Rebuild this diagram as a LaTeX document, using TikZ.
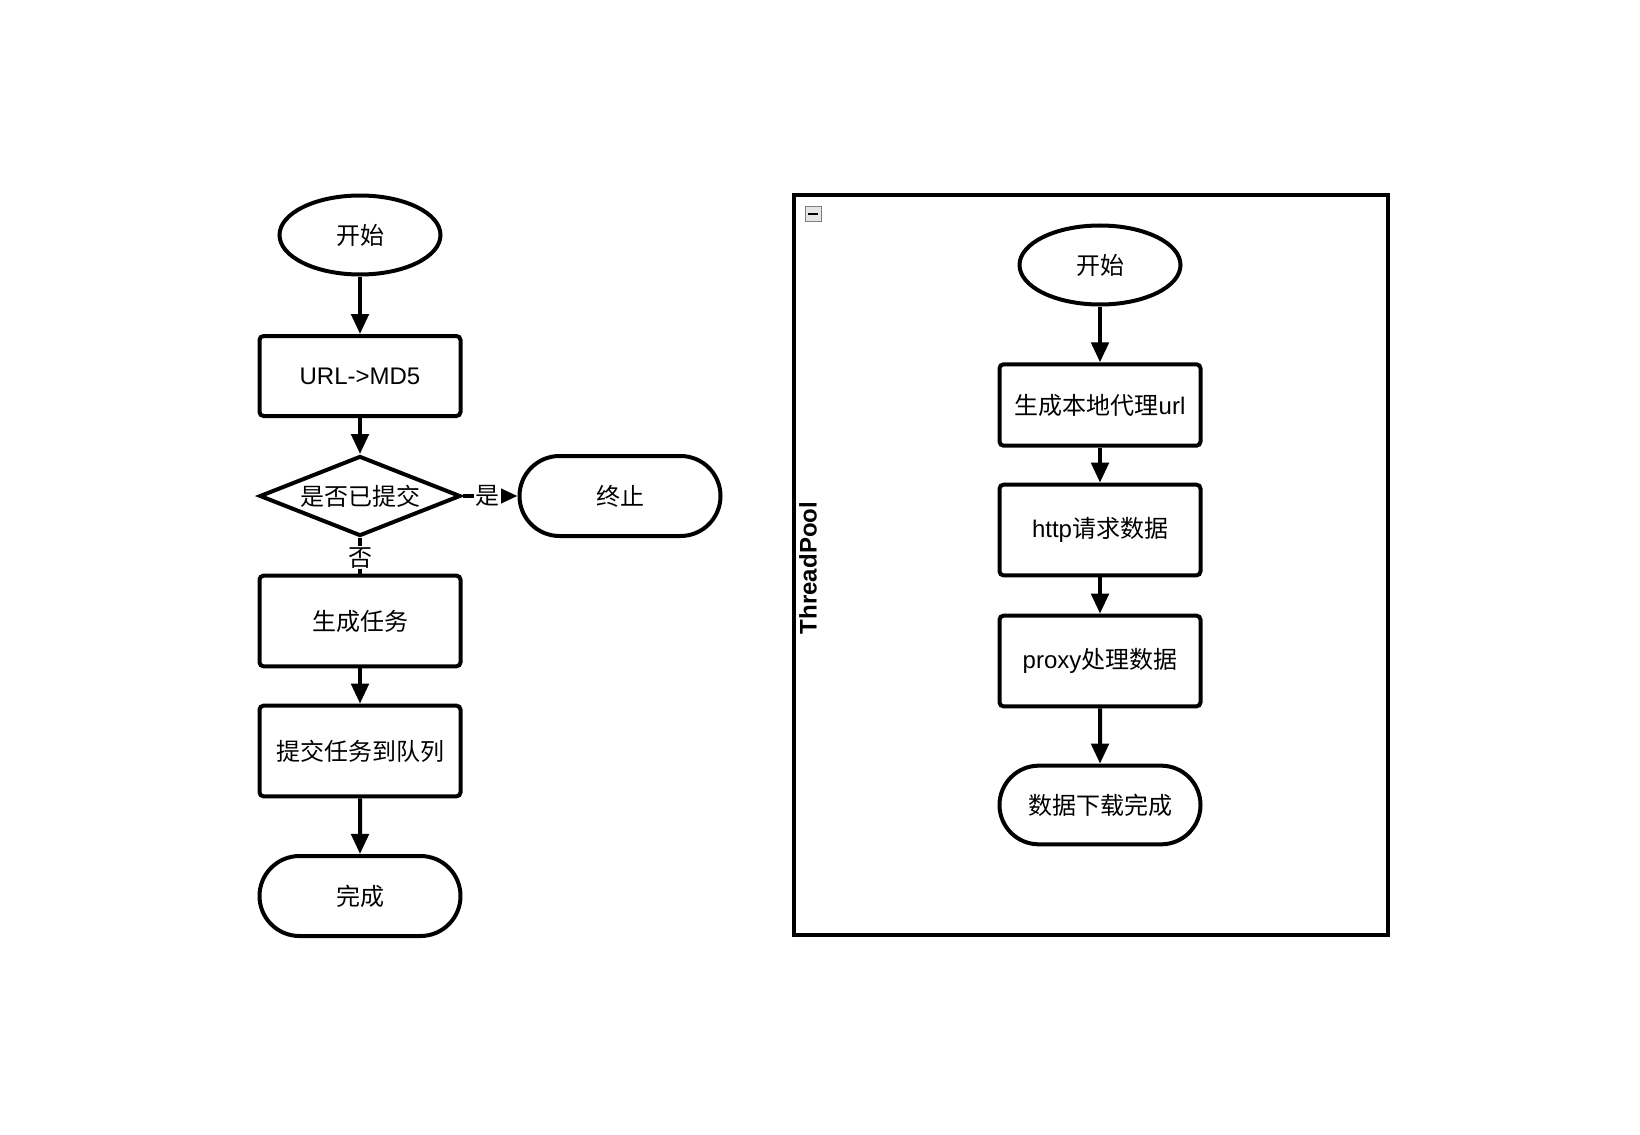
\documentclass[tikz,border=0pt]{standalone}
\usepackage{fontspec}
\setmainfont{Liberation Sans}
\newfontfamily\cjk{Noto Sans CJK SC}
\usetikzlibrary{shapes.geometric,shapes.misc,arrows.meta}
\begin{document}
\begin{tikzpicture}[x=0.75pt,y=-0.75pt,
  every node/.style={font=\fontsize{18}{21}\selectfont},
  base/.style={draw,line width=3pt,fill=white,inner sep=0pt},
  proc/.style={base,rectangle,rounded corners=3pt,minimum width=150.75pt},
  term/.style={base,rounded rectangle,minimum width=150.75pt,minimum height=60pt},
  oval/.style={base,ellipse,minimum width=120.75pt,minimum height=59.25pt},
  dec/.style={base,diamond,aspect=2.5,minimum width=150.75pt,minimum height=60pt},
  arr/.style={line width=3pt,-{Triangle[length=15pt,width=13pt]}},
  lbl/.style={fill=white,inner sep=1pt}]
\useasboundingbox (0,0) rectangle (1640,1134);
% left flow
\node[oval] (s1) at (360,235) {\cjk 开始};
\node[proc,minimum height=60pt] (md5) at (360,376) {URL->MD5};
\node[dec] (d) at (360,496) {\cjk 是否已提交};
\node[term] (stop) at (620,496) {\cjk 终止};
\node[proc,minimum height=68pt] (gen) at (360,621) {\cjk 生成任务};
\node[proc,minimum height=68pt] (sub) at (360,751) {\cjk 提交任务到队列};
\node[term] (done) at (360,896) {\cjk 完成};
\draw[arr] (s1) -- (md5);
\draw[arr] (md5) -- (d);
\draw[arr] (d.east) -- node[lbl,pos=0.45] {\cjk 是} (stop.west);
\draw[line width=3pt] (d.south) -- node[lbl,pos=0.55] {\cjk 否} (gen.north);
\draw[arr] (gen) -- (sub);
\draw[arr] (sub) -- (done);
% container
\node[draw,line width=3pt,minimum width=445.5pt,minimum height=555pt,inner sep=0pt] (pool) at (1091,565) {};
\node[draw=gray,fill=gray!20,minimum width=12pt,minimum height=11pt,inner sep=0pt] (icon) at (813,214) {};
\draw[line width=1.5pt] ([xshift=-3.5pt]icon.center) -- ([xshift=3.5pt]icon.center);
\node[rotate=90,font=\bfseries\fontsize{18}{21}\selectfont] (tp) at (808,568) {ThreadPool};
% right flow
\node[oval] (s2) at (1100,265) {\cjk 开始};
\node[proc,minimum height=61pt] (p1) at (1100,405) {{\cjk 生成本地代理}url};
\node[proc,minimum height=68pt] (p2) at (1100,530) {http{\cjk 请求数据}};
\node[proc,minimum height=68pt] (p3) at (1100,661) {proxy{\cjk 处理数据}};
\node[term,minimum height=59pt] (e2) at (1100,805) {\cjk 数据下载完成};
\draw[arr] (s2) -- (p1);
\draw[arr] (p1) -- (p2);
\draw[arr] (p2) -- (p3);
\draw[arr] (p3) -- (e2);
\end{tikzpicture}
\end{document}
